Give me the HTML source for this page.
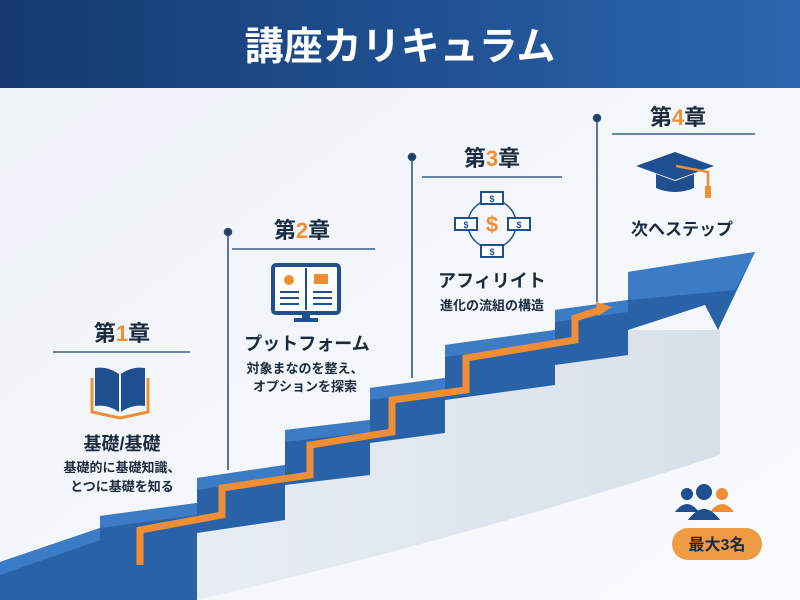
<!DOCTYPE html>
<html><head><meta charset="utf-8"><style>
html,body{margin:0;padding:0;width:800px;height:600px;overflow:hidden;background:#f3f6fa;}
svg{display:block;font-family:"Liberation Sans","Noto Sans CJK JP",sans-serif;}
</style></head><body>
<svg width="800" height="600" viewBox="0 0 800 600" xmlns="http://www.w3.org/2000/svg">
<defs>
<linearGradient id="hd" x1="0" x2="1" y1="0" y2="0"><stop offset="0" stop-color="#143a6e"/><stop offset="0.5" stop-color="#1f4f8f"/><stop offset="1" stop-color="#2c66ae"/></linearGradient>
<linearGradient id="bg" x1="0" x2="1" y1="0" y2="1"><stop offset="0" stop-color="#eef3f9"/><stop offset="1" stop-color="#f8fafc"/></linearGradient>
<linearGradient id="wall" x1="0" x2="1" y1="0" y2="0"><stop offset="0" stop-color="#e8edf4"/><stop offset="1" stop-color="#d8e0ea"/></linearGradient>
</defs>
<rect width="800" height="600" fill="url(#bg)"/>
<rect width="800" height="88" fill="url(#hd)"/>
<text x="400" y="60" text-anchor="middle" font-size="39" font-weight="bold" fill="#fff">講座カリキュラム</text>

<path d="M195,600 Q460,540 720,455 L720,330 L628,330 L555,365 L445,400 L370,443 L285,485 L197,533 L195,600 Z" fill="url(#wall)"/>
<path d="M0,562 L100,528 L100,516 L197,503 L197,478 L285,465 L285,430 L370,420 L370,388 L445,378 L445,345 L555,330 L555,310 L628,300 L628,272 L755,252 L718,330 L705,305 L628,330 L628,355 L555,365 L555,385 L445,400 L445,433 L370,443 L370,475 L285,485 L285,520 L197,533 L197,600 L0,600 Z" fill="#2a62a8"/>
<path d="M0,562 L100,528 L100,540 L0,575 Z M100,516 L197,503 L197,515 L100,528 Z M197,478 L285,465 L285,477 L197,490 Z M285,430 L370,420 L370,432 L285,442 Z M370,388 L445,378 L445,390 L370,400 Z M445,345 L555,330 L555,342 L445,357 Z M555,310 L628,300 L628,312 L555,322 Z M628,272 L755,252 L735,290 L628,300 Z" fill="#3c7cc6"/>
<polyline points="140,565 140,530 222,515 222,488 310,475 310,445 392,432 392,400 466,390 466,358 575,340 575,318 600,310" fill="none" stroke="#ef8e34" stroke-width="7"/>
<polygon points="596,302 612,307 598,316" fill="#ef8e34"/>

<g stroke="#2c4a6e" stroke-width="1.5" fill="#1f3e66">
<line x1="228" y1="232" x2="228" y2="470"/><circle cx="228" cy="232" r="3.5"/>
<line x1="412" y1="157" x2="412" y2="378"/><circle cx="412" cy="157" r="3.5"/>
<line x1="597" y1="118" x2="597" y2="302"/><circle cx="597" cy="118" r="3.5"/>
</g>
<g stroke="#3c5f88" stroke-width="1.5">
<line x1="53" y1="352" x2="190" y2="352"/>
<line x1="232" y1="249" x2="375" y2="249"/>
<line x1="422" y1="177" x2="562" y2="177"/>
<line x1="612" y1="134" x2="755" y2="134"/>
</g>

<g font-weight="bold" fill="#1b2a3d" text-anchor="middle">
<text x="122" y="341" font-size="22">第<tspan fill="#ef8e34">1</tspan>章</text>
<text x="302" y="238" font-size="22">第<tspan fill="#ef8e34">2</tspan>章</text>
<text x="492" y="166" font-size="22">第<tspan fill="#ef8e34">3</tspan>章</text>
<text x="678" y="125" font-size="22">第<tspan fill="#ef8e34">4</tspan>章</text>
<text x="122" y="450" font-size="18">基礎/基礎</text>
<text x="122" y="472" font-size="13">基礎的に基礎知識、</text>
<text x="122" y="491" font-size="13">とつに基礎を知る</text>
<text x="307" y="350" font-size="18">プットフォーム</text>
<text x="305" y="373" font-size="13">対象まなのを整え、</text>
<text x="305" y="391" font-size="13">オプションを探索</text>
<text x="492" y="287" font-size="18">アフィリイト</text>
<text x="492" y="310" font-size="13">進化の流組の構造</text>
<text x="682" y="235" font-size="17">次へステップ</text>
</g>

<g>
<path d="M92,378 L92,412 L120,418 L148,412 L148,378" fill="none" stroke="#ef8e34" stroke-width="3"/>
<path d="M95,368 Q108,366 119,374 L119,412 Q108,404 95,406 Z" fill="#1f4f8f"/>
<path d="M145,368 Q132,366 121,374 L121,412 Q132,404 145,406 Z" fill="#1f4f8f"/>
</g>
<g>
<rect x="273" y="265" width="66" height="48" rx="3" fill="#fff" stroke="#1f4f8f" stroke-width="4"/>
<line x1="306" y1="268" x2="306" y2="310" stroke="#1f4f8f" stroke-width="2"/>
<circle cx="289" cy="280" r="5" fill="#ef8e34"/>
<rect x="314" y="274" width="14" height="10" fill="#ef8e34"/>
<g stroke="#1f4f8f" stroke-width="2"><line x1="280" y1="292" x2="299" y2="292"/><line x1="280" y1="298" x2="299" y2="298"/><line x1="280" y1="304" x2="299" y2="304"/><line x1="313" y1="292" x2="332" y2="292"/><line x1="313" y1="298" x2="332" y2="298"/><line x1="313" y1="304" x2="332" y2="304"/></g>
<rect x="302" y="313" width="8" height="6" fill="#1f4f8f"/><rect x="294" y="318" width="24" height="4" fill="#1f4f8f"/>
</g>
<g font-size="9" font-weight="bold" fill="#1f4f8f" text-anchor="middle">
<circle cx="492" cy="224" r="24" fill="none" stroke="#1f4f8f" stroke-width="1.5"/>
<g fill="#fff" stroke="#1f4f8f" stroke-width="2">
<rect x="481" y="192" width="22" height="12"/><rect x="481" y="245" width="22" height="12"/>
<rect x="455" y="218" width="22" height="12"/><rect x="508" y="218" width="22" height="12"/>
</g>
<text x="492" y="202">$</text><text x="492" y="255">$</text><text x="466" y="228">$</text><text x="519" y="228">$</text>
<text x="492" y="232" font-size="22" fill="#ef8e34">$</text>
</g>
<g>
<polygon points="675,152 714,166 675,180 636,166" fill="#1f4f8f"/>
<path d="M656,174 L656,188 Q675,196 694,188 L694,174 L675,181 Z" fill="#1f4f8f"/>
<path d="M676,166 L708,172 L708,188" fill="none" stroke="#ef8e34" stroke-width="2.5"/>
<rect x="705" y="186" width="6" height="12" fill="#ef8e34"/>
</g>
<g>
<circle cx="687" cy="494" r="6" fill="#1f4f8f"/><path d="M675,512 Q687,496 699,512 Z" fill="#1f4f8f"/>
<circle cx="722" cy="494" r="6" fill="#ef8e34"/><path d="M710,512 Q722,496 734,512 Z" fill="#ef8e34"/>
<circle cx="704" cy="492" r="8" fill="#1f4f8f"/><path d="M688,520 Q704,498 720,520 Z" fill="#1f4f8f"/>
</g>
<rect x="672" y="528" width="90" height="32" rx="16" fill="#ef9a45"/>
<text x="717" y="550" text-anchor="middle" font-size="16" font-weight="bold" fill="#1b2a3d">最大3名</text>
</svg>
</body></html>
